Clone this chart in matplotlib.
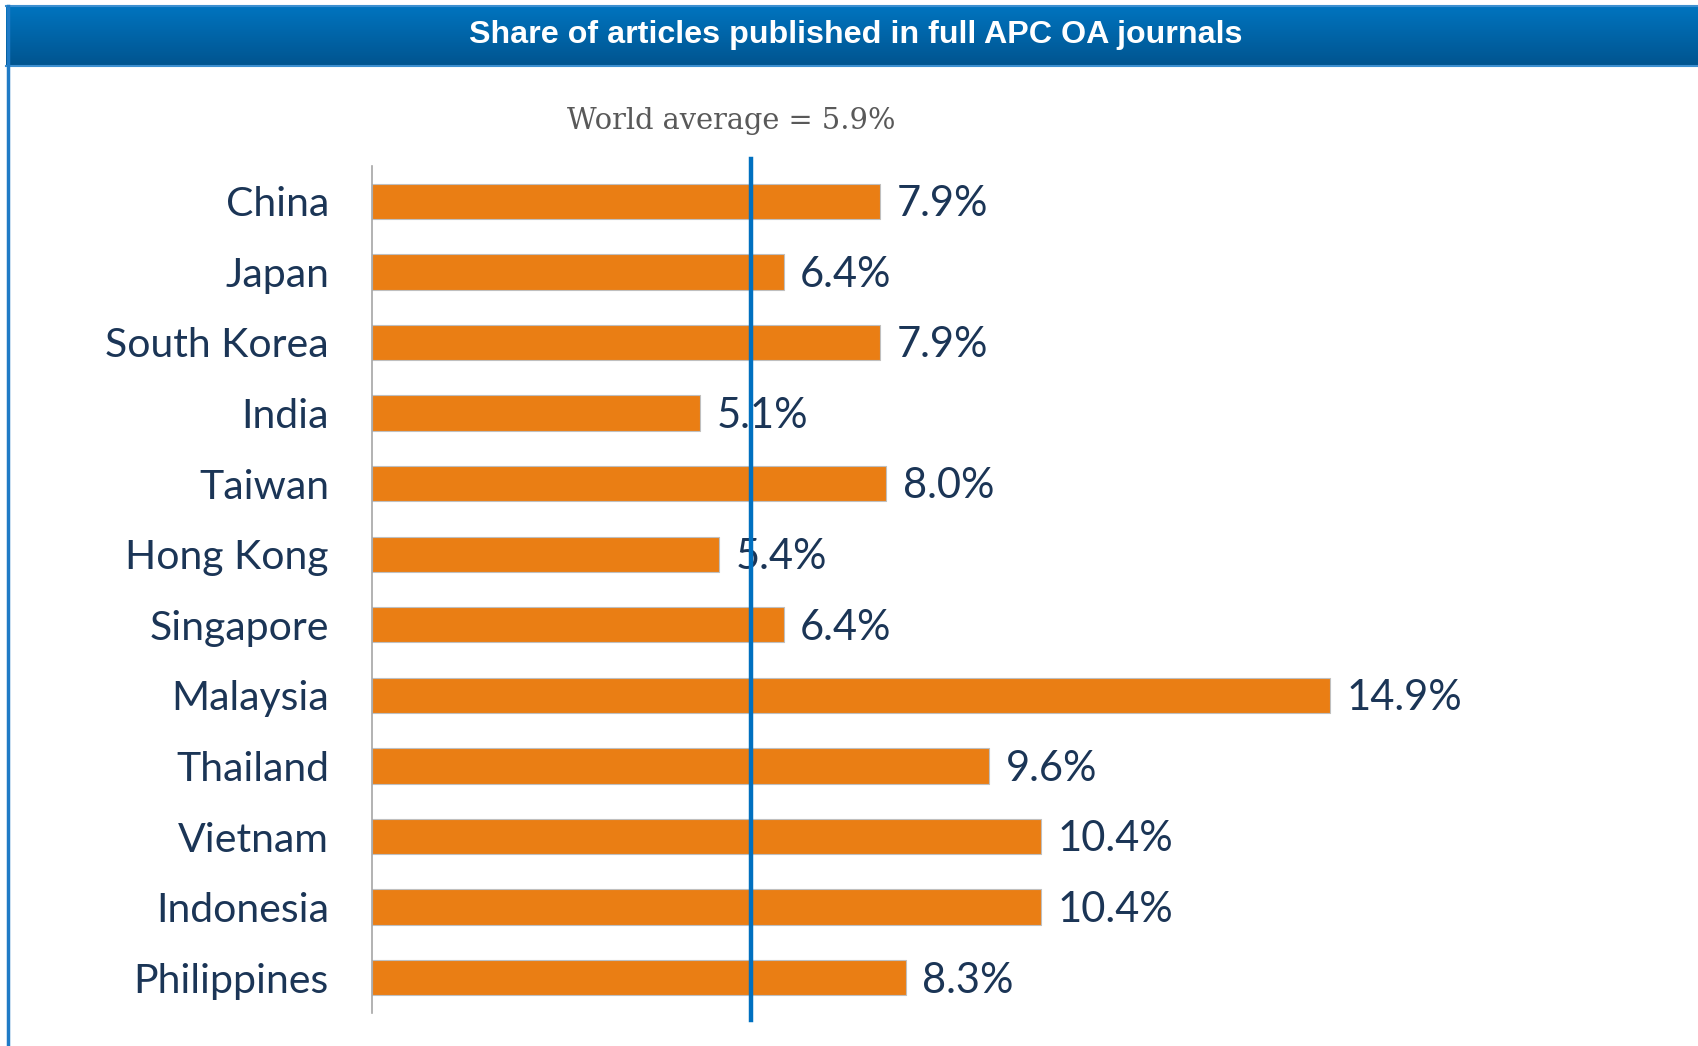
"""
Share of articles published in full APC OA journals - horizontal bar chart
"""
import numpy as np
import matplotlib
matplotlib.use('Agg')
import matplotlib.pyplot as plt

# Data
countries = ['China', 'Japan', 'South Korea', 'India', 'Taiwan', 'Hong Kong',
             'Singapore', 'Malaysia', 'Thailand', 'Vietnam', 'Indonesia', 'Philippines']
shares = [7.9, 6.4, 7.9, 5.1, 8.0, 5.4, 6.4, 14.9, 9.6, 10.4, 10.4, 8.3]
world_avg = 5.9

W, H, DPI = 1698, 1046, 100
fig = plt.figure(figsize=(W / DPI, H / DPI), dpi=DPI)
fig.patch.set_facecolor('white')

def fx(px): return px / W
def fy(px): return 1 - px / H

# Header band with vertical gradient
hx0, hy0, hy1 = 6, 6, 66
hax = fig.add_axes([fx(hx0), fy(hy1), 1 - fx(hx0), (hy1 - hy0) / H])
grad = np.linspace(0, 1, 100).reshape(-1, 1)
cmap = matplotlib.colors.LinearSegmentedColormap.from_list('hdr', ['#0074BF', '#00548F'])
hax.imshow(grad, aspect='auto', cmap=cmap, extent=[0, 1, 0, 1], origin='upper')
hax.set_axis_off()
fig.text(fx(856), fy(35), 'Share of articles published in full APC OA journals',
         ha='center', va='center', color='white', fontsize=23.2, fontweight='bold',
         family='Liberation Sans')

# Thin light borders around the panel
fig.add_artist(plt.Line2D([fx(6), 1], [fy(6), fy(6)], color='#3D8FD0', lw=1.5))
fig.add_artist(plt.Line2D([fx(6), 1], [fy(66), fy(66)], color='#3D8FD0', lw=1.5))
fig.add_artist(plt.Line2D([fx(8), fx(8)], [fy(6), 0], color='#1F7BC6', lw=2.5))

# Main bar axes
ax_left, ax_right, ax_top, ax_bot = 372, 1640, 166, 1013
ax = fig.add_axes([fx(ax_left), fy(ax_bot), (ax_right - ax_left) / W, (ax_bot - ax_top) / H])
y = np.arange(len(countries))
ax.barh(y, shares, height=0.5, color='#EA7E14', edgecolor='#BFBFBF', linewidth=0.8, zorder=2)
ax.set_ylim(len(countries) - 0.5, -0.5)
xmax = (ax_right - ax_left) / 64.3
ax.set_xlim(0, xmax)

for s in ['top', 'right', 'bottom']:
    ax.spines[s].set_visible(False)
ax.spines['left'].set_color('#A6A6A6')
ax.spines['left'].set_linewidth(1.2)
ax.set_xticks([])
ax.set_yticks(y)
ax.set_yticklabels(countries, fontsize=29.5, color='#1B3556', family='Lato')
ax.tick_params(axis='y', length=0, pad=31)

for yi, v in zip(y, shares):
    ax.text(v + 0.26, yi + 0.04, f'{v:.1f}%', va='center', ha='left', fontsize=30,
            color='#1B3556', family='Lato', zorder=3)

# World average line (drawn over labels)
ax.plot([world_avg, world_avg], [-0.6, len(countries) - 0.4], color='#0070C0', lw=3.2,
        clip_on=False, zorder=5)
fig.text(fx(731), fy(121), f'World average = {world_avg}%', ha='center', va='center',
         fontsize=20.8, color='#595959', family='DejaVu Serif')

fig.savefig('out.png', dpi=DPI, facecolor='white')
